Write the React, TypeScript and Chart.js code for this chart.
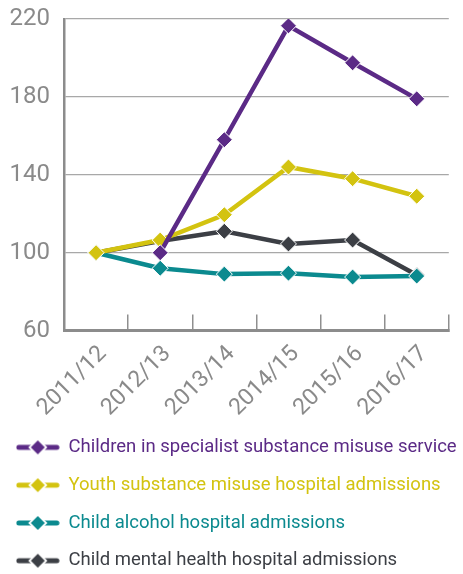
import React, { useEffect, useRef } from 'react';
import { Chart, registerables } from 'chart.js';

Chart.register(...registerables);

const CATEGORIES = ['2011/12', '2012/13', '2013/14', '2014/15', '2015/16', '2016/17'];
const SPECIALIST_SERVICES = [null, 100, 158, 216.5, 197.5, 179];
const YOUTH_SUBSTANCE_ADMISSIONS = [100, 106.5, 119.5, 144, 138, 129];
const CHILD_ALCOHOL_ADMISSIONS = [100, 92, 89, 89.5, 87.5, 88];
const CHILD_MENTAL_HEALTH_ADMISSIONS = [100, 106, 111, 104.5, 106.5, 88.5];

const SERIES_LABELS = [
  'Children in specialist substance misuse services',
  'Youth substance misuse hospital admissions',
  'Child alcohol hospital admissions',
  'Child mental health hospital admissions',
];
const SERIES_COLORS = ['#5B2A86', '#D3C310', '#0B8A8F', '#3C3F45'];

const Y_MIN = 60;
const Y_MAX = 220;
const Y_STEP = 40;

const FONT = 'Roboto, "Noto Sans", sans-serif';

function makeMarker(color: string): HTMLCanvasElement {
  const c = document.createElement('canvas');
  c.width = 44;
  c.height = 18;
  const ctx = c.getContext('2d')!;
  const cy = 9;
  ctx.strokeStyle = color;
  ctx.lineWidth = 5;
  ctx.lineCap = 'round';
  ctx.beginPath();
  ctx.moveTo(3, cy);
  ctx.lineTo(41, cy);
  ctx.stroke();
  const r = 7.5;
  const cx = 22;
  ctx.beginPath();
  ctx.moveTo(cx - r, cy);
  ctx.lineTo(cx, cy - r);
  ctx.lineTo(cx + r, cy);
  ctx.lineTo(cx, cy + r);
  ctx.closePath();
  ctx.fillStyle = color;
  ctx.fill();
  ctx.lineWidth = 3;
  ctx.strokeStyle = '#ffffff';
  ctx.stroke();
  ctx.beginPath();
  const r2 = r - 0.5;
  ctx.moveTo(cx - r2, cy);
  ctx.lineTo(cx, cy - r2);
  ctx.lineTo(cx + r2, cy);
  ctx.lineTo(cx, cy + r2);
  ctx.closePath();
  ctx.fill();
  return c;
}

export default function App() {
  const canvasRef = useRef<HTMLCanvasElement | null>(null);

  useEffect(() => {
    if (!canvasRef.current) return;
    const seriesData = [
      SPECIALIST_SERVICES,
      YOUTH_SUBSTANCE_ADMISSIONS,
      CHILD_ALCOHOL_ADMISSIONS,
      CHILD_MENTAL_HEALTH_ADMISSIONS,
    ];
    const markers = SERIES_COLORS.map(makeMarker);

    const chart = new Chart(canvasRef.current, {
      type: 'line',
      data: {
        labels: CATEGORIES,
        datasets: seriesData.map((d, i) => ({
          label: SERIES_LABELS[i],
          data: d,
          borderColor: SERIES_COLORS[i],
          backgroundColor: SERIES_COLORS[i],
          pointBackgroundColor: SERIES_COLORS[i],
          pointBorderColor: '#ffffff',
          pointBorderWidth: 1,
          pointStyle: 'rectRot',
          pointRadius: 8,
          borderWidth: 4.5,
          tension: 0,
          fill: false,
        })),
      },
      options: {
        animation: false,
        responsive: true,
        maintainAspectRatio: false,
        layout: { padding: { top: 19, right: 7, left: -3, bottom: 0 } },
        plugins: {
          tooltip: { enabled: false },
          legend: {
            position: 'bottom',
            align: 'start',
            labels: {
              usePointStyle: true,
              pointStyleWidth: 43,
              padding: 19.3,
              font: { family: FONT, size: 18.5 },
              generateLabels: (ch: any) => {
                const base = (Chart.defaults.plugins.legend.labels as any).generateLabels(ch);
                return base.map((item: any, i: number) => ({
                  ...item,
                  pointStyle: markers[i],
                  fontColor: SERIES_COLORS[i],
                }));
              },
            },
          },
        },
        scales: {
          x: {
            offset: true,
            afterFit: (scale: any) => {
              scale.height = 88.2;
            },
            grid: {
              offset: true,
              drawOnChartArea: false,
              drawTicks: true,
              tickLength: -16,
              color: '#8f8f8f',
              lineWidth: 1.5,
            },
            border: { display: true, color: '#8c8c8c', width: 3 },
            ticks: {
              minRotation: 45,
              maxRotation: 45,
              padding: 26,
              labelOffset: 7,
              color: '#8a8a8a',
              font: { family: FONT, size: 23 },
            },
          },
          y: {
            min: Y_MIN,
            max: Y_MAX,
            afterFit: (scale: any) => {
              scale.width = 67;
              scale.paddingTop = 0;
              scale.paddingBottom = 0;
            },
            grid: { drawTicks: false, color: '#a8a8a8', lineWidth: 1.3 },
            border: { display: true, color: '#8c8c8c', width: 2.5 },
            ticks: {
              stepSize: Y_STEP,
              padding: 14,
              color: '#8a8a8a',
              font: { family: FONT, size: 24 },
            },
          },
        },
      },
    });
    return () => chart.destroy();
  }, []);

  return (
    <div style={{ position: 'absolute', left: 0, top: 0, width: 463, height: 580 }}>
      <canvas ref={canvasRef} />
    </div>
  );
}
